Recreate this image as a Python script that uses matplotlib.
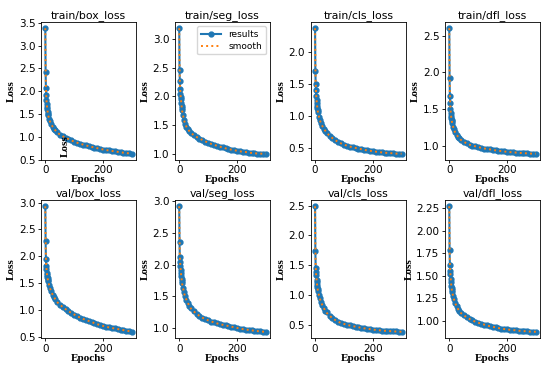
import numpy as np
import matplotlib
matplotlib.use("Agg")
import matplotlib.pyplot as plt
from matplotlib.ticker import MultipleLocator

# -------- Data -------- #
epochs = [0, 1, 2, 3, 4, 5, 6, 7, 8, 9, 10, 13, 16, 20, 25, 30, 35, 40,
          50, 60, 70, 80, 90, 100, 110, 120, 130, 140, 150, 160, 170, 180, 190,
          200, 210, 220, 230, 240, 250, 260, 270, 280, 290, 299]

train_box = [3.38, 2.43, 2.08, 1.92, 1.80, 1.72, 1.66, 1.60, 1.55, 1.51, 1.48,
             1.40, 1.34, 1.28, 1.22, 1.18, 1.14, 1.10, 1.05, 1.01, 0.98, 0.95,
             0.92, 0.89, 0.87, 0.85, 0.83, 0.81, 0.795, 0.78, 0.765, 0.75, 0.735,
             0.72, 0.71, 0.70, 0.69, 0.68, 0.67, 0.66, 0.65, 0.645, 0.635, 0.63]
train_seg = [3.18, 2.46, 2.27, 2.13, 2.05, 1.99, 1.95, 1.89, 1.84, 1.80, 1.76,
             1.68, 1.60, 1.53, 1.47, 1.43, 1.40, 1.37, 1.33, 1.30, 1.27, 1.25,
             1.22, 1.20, 1.18, 1.16, 1.15, 1.13, 1.12, 1.10, 1.09, 1.08, 1.07,
             1.06, 1.05, 1.04, 1.04, 1.03, 1.02, 1.02, 1.01, 1.01, 1.01, 1.01]
train_cls = [2.37, 1.70, 1.50, 1.40, 1.31, 1.25, 1.20, 1.16, 1.12, 1.09, 1.06,
             0.99, 0.94, 0.89, 0.84, 0.80, 0.77, 0.74, 0.69, 0.65, 0.62, 0.59,
             0.57, 0.55, 0.535, 0.52, 0.51, 0.50, 0.49, 0.48, 0.47, 0.46, 0.455,
             0.45, 0.44, 0.435, 0.43, 0.425, 0.42, 0.42, 0.415, 0.41, 0.41, 0.41]
train_dfl = [2.60, 1.92, 1.68, 1.58, 1.50, 1.45, 1.41, 1.38, 1.35, 1.33, 1.31,
             1.26, 1.22, 1.18, 1.15, 1.12, 1.10, 1.08, 1.05, 1.03, 1.01, 1.00,
             0.99, 0.98, 0.97, 0.96, 0.955, 0.95, 0.94, 0.935, 0.93, 0.925, 0.92,
             0.915, 0.91, 0.91, 0.905, 0.90, 0.90, 0.895, 0.895, 0.89, 0.89, 0.89]
val_box = [2.93, 2.28, 1.96, 1.83, 1.76, 1.70, 1.66, 1.62, 1.59, 1.56, 1.54,
           1.47, 1.41, 1.35, 1.29, 1.24, 1.20, 1.16, 1.10, 1.06, 1.02, 0.98,
           0.95, 0.92, 0.89, 0.86, 0.84, 0.82, 0.80, 0.78, 0.76, 0.74, 0.72,
           0.71, 0.69, 0.68, 0.67, 0.66, 0.65, 0.64, 0.63, 0.62, 0.61, 0.60]
val_seg = [2.92, 2.35, 2.12, 2.04, 1.97, 1.92, 1.86, 1.82, 1.78, 1.74, 1.71,
           1.63, 1.56, 1.50, 1.44, 1.39, 1.35, 1.31, 1.26, 1.22, 1.19, 1.16,
           1.14, 1.12, 1.10, 1.09, 1.07, 1.06, 1.05, 1.04, 1.03, 1.02, 1.01,
           1.00, 0.99, 0.98, 0.975, 0.97, 0.96, 0.955, 0.95, 0.945, 0.94, 0.94]
val_cls = [2.49, 1.74, 1.45, 1.38, 1.33, 1.25, 1.22, 1.17, 1.13, 1.10, 1.07,
           1.00, 0.95, 0.89, 0.83, 0.78, 0.74, 0.71, 0.65, 0.61, 0.58, 0.55,
           0.53, 0.515, 0.50, 0.49, 0.48, 0.47, 0.46, 0.45, 0.44, 0.435, 0.43,
           0.42, 0.415, 0.41, 0.405, 0.40, 0.40, 0.395, 0.39, 0.39, 0.385, 0.385]
val_dfl = [2.27, 1.79, 1.62, 1.55, 1.52, 1.46, 1.43, 1.39, 1.36, 1.34, 1.32,
           1.28, 1.24, 1.20, 1.16, 1.13, 1.11, 1.09, 1.06, 1.04, 1.02, 1.005,
           0.99, 0.98, 0.97, 0.96, 0.95, 0.94, 0.935, 0.93, 0.92, 0.915, 0.91,
           0.905, 0.90, 0.90, 0.895, 0.89, 0.89, 0.885, 0.885, 0.88, 0.88, 0.88]

titles = ["train/box_loss", "train/seg_loss", "train/cls_loss", "train/dfl_loss",
          "val/box_loss", "val/seg_loss", "val/cls_loss", "val/dfl_loss"]
series = [train_box, train_seg, train_cls, train_dfl,
          val_box, val_seg, val_cls, val_dfl]
ytick_steps = [0.5, 0.5, 0.5, 0.5, 0.5, 0.5, 0.5, 0.25]


def smooth(y):
    # light 3-point smoothing, endpoints kept
    y = np.asarray(y, dtype=float)
    s = y.copy()
    s[1:-1] = 0.25 * y[:-2] + 0.5 * y[1:-1] + 0.25 * y[2:]
    return s


# -------- Plotting -------- #
fig = plt.figure(figsize=(5.5, 3.66), dpi=100)
lefts = [0.0745, 0.318, 0.565, 0.809]
bottoms = [0.563, 0.0765]
w, h = 0.173, 0.377

label_font = dict(family="Liberation Serif", weight="bold", size=8)

for i, (title, y) in enumerate(zip(titles, series)):
    ax = fig.add_axes([lefts[i % 4], bottoms[i // 4], w, h])
    ax.plot(epochs, y, marker='.', color='#1f77b4', linewidth=1.5,
            markersize=7, label='results')
    ax.plot(epochs, smooth(y), ':', color='#ff7f0e', linewidth=1.4,
            label='smooth')
    ax.set_title(title, fontsize=7.8, pad=3)
    ax.set_xlabel("Epochs", fontdict=label_font, labelpad=0)
    ax.set_ylabel("Loss", fontdict=label_font, labelpad=2)
    ax.tick_params(labelsize=7.5, length=2.5, width=0.6, pad=1.5)
    ax.set_xticks([0, 200])
    ax.yaxis.set_major_locator(MultipleLocator(ytick_steps[i]))
    for sp in ax.spines.values():
        sp.set_linewidth(0.6)
    if i == 1:
        ax.legend(loc='upper right', fontsize=6.5, handlelength=2.2,
                  borderpad=0.4, labelspacing=0.3, framealpha=0.8)

# stray label inside the first panel
fig.text(0.118, 0.60, "Loss", rotation=90, ha='center', va='center',
         fontdict=label_font)

fig.savefig("out.png", dpi=100)
